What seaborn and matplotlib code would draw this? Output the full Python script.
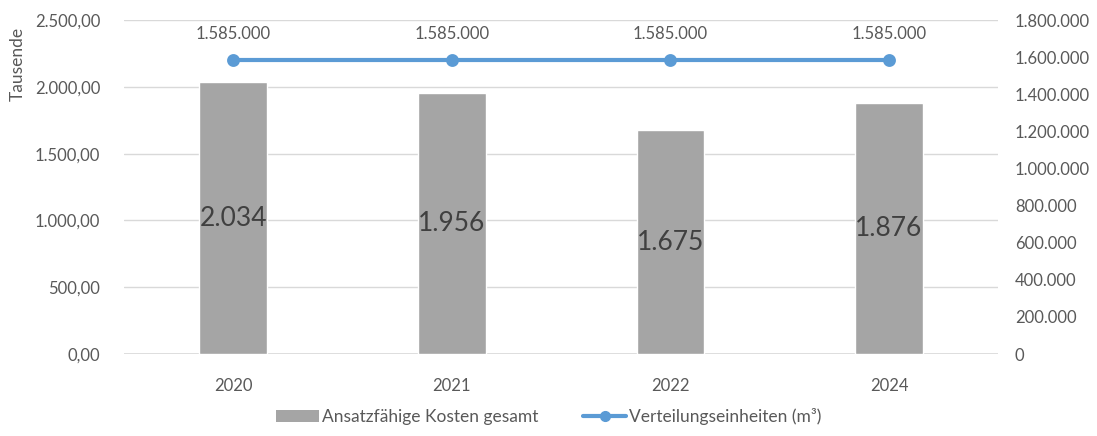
import matplotlib
matplotlib.use("Agg")
import matplotlib.pyplot as plt
import seaborn as sns
import pandas as pd
from matplotlib.ticker import FuncFormatter, MultipleLocator
from matplotlib.lines import Line2D
from matplotlib.patches import Patch

years = ["2020", "2021", "2022", "2024"]
kosten_tsd = [2034, 1956, 1675, 1876]
einheiten = [1585000, 1585000, 1585000, 1585000]
bar_name = "Ansatzfähige Kosten gesamt"
line_name = "Verteilungseinheiten (m³)"

sns.set_theme(style="white")
plt.rcParams['font.family'] = ['Lato', 'DejaVu Sans']
txt = "#595959"
bar_color = "#A5A5A5"
line_color = "#5B9BD5"
fs = 12

df = pd.DataFrame({"Jahr": years, "Kosten": kosten_tsd, "Einheiten": einheiten})

fig = plt.figure(figsize=(10.97, 4.36), dpi=100)
ax = fig.add_axes([0.113, 0.188, 0.797, 0.766])

sns.barplot(data=df, x="Jahr", y="Kosten", color=bar_color, width=0.31,
            saturation=1, ax=ax, zorder=2)
ax.set_ylim(0, 2500)
ax.yaxis.set_major_locator(MultipleLocator(500))
def de2(v, p):
    s = f"{v:,.2f}"
    return s.replace(",", "X").replace(".", ",").replace("X", ".")
ax.yaxis.set_major_formatter(FuncFormatter(de2))
ax.grid(axis="y", color="#D9D9D9", linewidth=1, zorder=0)
for s in ax.spines.values():
    s.set_visible(False)
ax.axhline(0, color="#D9D9D9", linewidth=1.2, zorder=1)
ax.tick_params(axis="both", length=0, labelsize=fs, colors=txt)
ax.tick_params(axis="x", pad=17)
ax.tick_params(axis="y", pad=17)
ax.set_xlabel("")
ax.set_ylabel("Tausende", fontsize=12.5, color=txt)
ax.yaxis.set_label_coords(-0.112, 0.87)

for i, v in enumerate(kosten_tsd):
    ax.text(i, v / 2, f"{v:,}".replace(",", "."), ha="center", va="center",
            fontsize=19, color="#404040", zorder=3)

ax2 = ax.twinx()
sns.pointplot(data=df, x="Jahr", y="Einheiten", color=line_color, markers="o",
              linestyles="-", ax=ax2, markersize=7, linewidth=3, errorbar=None)
ax2.set_ylim(0, 1800000)
ax2.yaxis.set_major_locator(MultipleLocator(200000))
ax2.yaxis.set_major_formatter(FuncFormatter(lambda v, p: f"{int(v):,}".replace(",", ".")))
ax2.tick_params(axis="y", length=0, labelsize=fs, colors=txt, pad=12)
ax2.set_ylabel("")
ax2.set_xlabel("")
for s in ax2.spines.values():
    s.set_visible(False)
ax2.set_xlim(-0.5, 3.5)
ax.set_xlim(-0.5, 3.5)
for i, v in enumerate(einheiten):
    ax2.annotate(f"{v:,}".replace(",", "."), (i, v), xytext=(0, 13),
                 textcoords="offset points", ha="center", va="bottom",
                 fontsize=fs, color=txt)

handles = [Patch(facecolor=bar_color, edgecolor="none"),
           Line2D([0], [0], color=line_color, linewidth=3, marker="o", markersize=7)]
fig.legend(handles, [bar_name, line_name], loc="lower center", ncol=2,
           bbox_to_anchor=(0.5, -0.01), frameon=False, fontsize=12.5,
           labelcolor=txt, handlelength=2.5, handletextpad=0.15, columnspacing=2.6)

fig.savefig("out.png", dpi=100)
